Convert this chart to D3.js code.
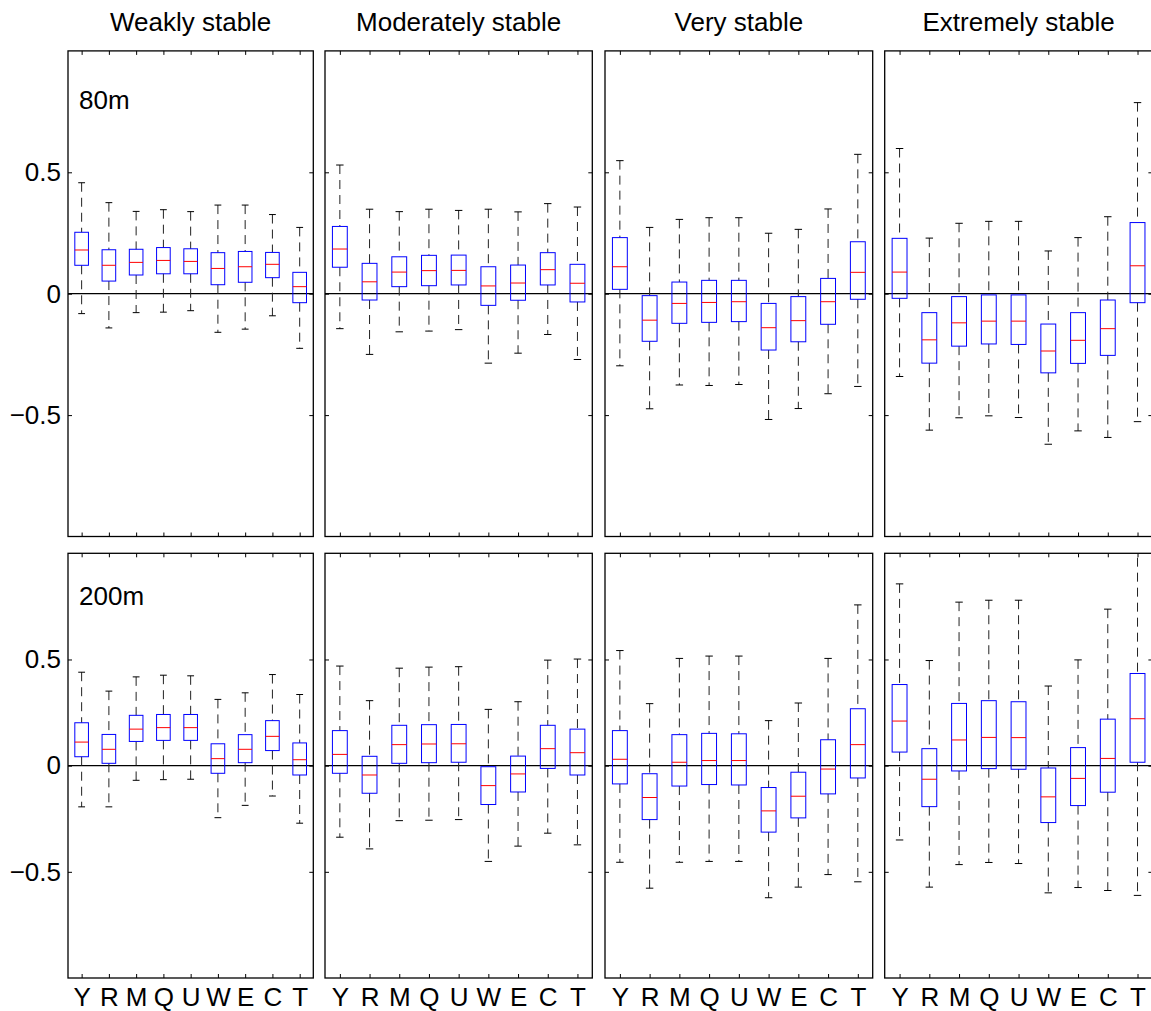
<!DOCTYPE html>
<html>
<head>
<meta charset="utf-8">
<script src="https://cdn.jsdelivr.net/npm/d3@7"></script>
<style>
  body { margin: 0; background: #fff; }
  svg { font-family: "Liberation Sans", Arial, Helvetica, sans-serif; }
</style>
</head>
<body>
<svg id="chart" width="1151" height="1011"></svg>
<script>
// categories on x, one column per stability class, one row per height
const categories = ["Y", "R", "M", "Q", "U", "W", "E", "C", "T"];
const stabilityTitles = ["Weakly stable", "Moderately stable", "Very stable", "Extremely stable"];
const heightLabels = ["80m", "200m"];
const yTicks = [-0.5, 0, 0.5];

// each row: [lower whisker, q1, median, q3, upper whisker]
const weakly80 = [
  [-0.082, 0.117, 0.180, 0.253, 0.457],
  [-0.141, 0.052, 0.117, 0.181, 0.375],
  [-0.078, 0.077, 0.129, 0.183, 0.339],
  [-0.076, 0.082, 0.137, 0.190, 0.346],
  [-0.070, 0.082, 0.133, 0.185, 0.338],
  [-0.159, 0.037, 0.104, 0.169, 0.365],
  [-0.146, 0.047, 0.111, 0.174, 0.365],
  [-0.091, 0.066, 0.121, 0.170, 0.326],
  [-0.225, -0.037, 0.029, 0.088, 0.273]
];
const moderately80 = [
  [-0.144, 0.109, 0.184, 0.277, 0.530],
  [-0.250, -0.026, 0.049, 0.125, 0.348],
  [-0.157, 0.029, 0.089, 0.152, 0.338],
  [-0.154, 0.033, 0.095, 0.158, 0.348],
  [-0.148, 0.036, 0.096, 0.159, 0.343],
  [-0.286, -0.048, 0.032, 0.111, 0.348],
  [-0.245, -0.027, 0.044, 0.118, 0.337],
  [-0.168, 0.036, 0.099, 0.169, 0.371],
  [-0.271, -0.034, 0.043, 0.121, 0.357]
];
const very80 = [
  [-0.297, 0.018, 0.111, 0.231, 0.548],
  [-0.474, -0.196, -0.109, -0.008, 0.273],
  [-0.376, -0.122, -0.040, 0.048, 0.306],
  [-0.378, -0.118, -0.036, 0.055, 0.313],
  [-0.374, -0.115, -0.033, 0.055, 0.313],
  [-0.518, -0.232, -0.140, -0.040, 0.249],
  [-0.473, -0.198, -0.111, -0.012, 0.265],
  [-0.412, -0.126, -0.033, 0.063, 0.349],
  [-0.382, -0.023, 0.088, 0.214, 0.574]
];
const extremely80 = [
  [-0.341, -0.019, 0.089, 0.228, 0.598],
  [-0.562, -0.286, -0.190, -0.078, 0.229],
  [-0.511, -0.216, -0.120, -0.012, 0.290],
  [-0.503, -0.207, -0.113, -0.005, 0.298],
  [-0.510, -0.209, -0.113, -0.005, 0.298],
  [-0.620, -0.326, -0.236, -0.125, 0.176],
  [-0.565, -0.287, -0.192, -0.078, 0.231],
  [-0.592, -0.254, -0.144, -0.026, 0.317],
  [-0.527, -0.037, 0.115, 0.293, 0.787]
];
const weakly200 = [
  [-0.194, 0.042, 0.111, 0.202, 0.440],
  [-0.194, 0.011, 0.077, 0.147, 0.351],
  [-0.069, 0.114, 0.172, 0.237, 0.418],
  [-0.066, 0.119, 0.179, 0.241, 0.426],
  [-0.064, 0.119, 0.179, 0.241, 0.423],
  [-0.245, -0.036, 0.033, 0.103, 0.312],
  [-0.187, 0.014, 0.077, 0.146, 0.343],
  [-0.143, 0.071, 0.138, 0.212, 0.429],
  [-0.271, -0.044, 0.028, 0.107, 0.335]
];
const moderately200 = [
  [-0.337, -0.036, 0.053, 0.165, 0.469],
  [-0.392, -0.130, -0.044, 0.044, 0.306],
  [-0.259, 0.011, 0.099, 0.190, 0.459],
  [-0.257, 0.014, 0.102, 0.193, 0.464],
  [-0.254, 0.016, 0.103, 0.194, 0.466],
  [-0.451, -0.183, -0.094, -0.005, 0.265],
  [-0.379, -0.124, -0.039, 0.045, 0.301],
  [-0.318, -0.013, 0.080, 0.190, 0.497],
  [-0.373, -0.044, 0.061, 0.172, 0.502]
];
const very200 = [
  [-0.455, -0.086, 0.030, 0.165, 0.542],
  [-0.577, -0.254, -0.150, -0.038, 0.292],
  [-0.455, -0.096, 0.016, 0.146, 0.505],
  [-0.451, -0.089, 0.024, 0.152, 0.516],
  [-0.451, -0.091, 0.024, 0.150, 0.516],
  [-0.622, -0.313, -0.213, -0.103, 0.212],
  [-0.572, -0.246, -0.144, -0.031, 0.295],
  [-0.513, -0.133, -0.016, 0.122, 0.505],
  [-0.547, -0.058, 0.099, 0.268, 0.757]
];
const extremely200 = [
  [-0.350, 0.064, 0.210, 0.382, 0.856],
  [-0.572, -0.193, -0.064, 0.080, 0.495],
  [-0.466, -0.025, 0.121, 0.293, 0.770],
  [-0.456, -0.014, 0.133, 0.306, 0.779],
  [-0.461, -0.017, 0.132, 0.301, 0.779],
  [-0.599, -0.268, -0.147, -0.011, 0.375],
  [-0.574, -0.188, -0.060, 0.085, 0.498],
  [-0.588, -0.125, 0.034, 0.219, 0.737],
  [-0.611, 0.016, 0.221, 0.434, 1.050]
];

const panelData = [
  [weakly80, moderately80, very80, extremely80],
  [weakly200, moderately200, very200, extremely200]
];

// panel frames in pixels
const colX = [[68, 313.3], [325, 592.3], [605, 872.7], [884.7, 1152.4]];
const rowY = [[50.9, 536.5], [553.3, 978]];
const fontSize = 26;

const svg = d3.select("#chart");

svg.selectAll(".col-title")
  .data(stabilityTitles)
  .enter().append("text")
  .attr("class", "col-title")
  .attr("x", (d, i) => (colX[i][0] + colX[i][1]) / 2)
  .attr("y", 31)
  .attr("text-anchor", "middle")
  .attr("font-size", fontSize)
  .text(d => d);

rowY.forEach((ry, r) => {
  colX.forEach((cx, c) => {
    const x = d3.scalePoint().domain(categories).range([cx[0], cx[1]]).padding(0.5);
    const y = d3.scaleLinear().domain([-1, 1]).range([ry[1], ry[0]]);
    const step = x.step();
    const boxW = step * 0.5;
    const capW = step * 0.25;
    const data = panelData[r][c];
    const clipId = "clip-" + r + "-" + c;

    svg.append("clipPath").attr("id", clipId)
      .append("rect")
      .attr("x", cx[0]).attr("y", ry[0])
      .attr("width", cx[1] - cx[0]).attr("height", ry[1] - ry[0]);

    const g = svg.append("g").attr("clip-path", "url(#" + clipId + ")");

    // zero line
    g.append("line")
      .attr("x1", cx[0]).attr("x2", cx[1])
      .attr("y1", y(0)).attr("y2", y(0))
      .attr("stroke", "#000").attr("stroke-width", 1.2);

    const box = g.selectAll(".box")
      .data(data)
      .enter().append("g")
      .attr("class", "box");

    // whiskers
    box.append("line")
      .attr("x1", (d, i) => x(categories[i])).attr("x2", (d, i) => x(categories[i]))
      .attr("y1", d => y(d[4])).attr("y2", d => y(d[3]))
      .attr("stroke", "#222").attr("stroke-dasharray", "9,6");
    box.append("line")
      .attr("x1", (d, i) => x(categories[i])).attr("x2", (d, i) => x(categories[i]))
      .attr("y1", d => y(d[1])).attr("y2", d => y(d[0]))
      .attr("stroke", "#222").attr("stroke-dasharray", "9,6");

    // caps
    [0, 4].forEach(k => {
      box.append("line")
        .attr("x1", (d, i) => x(categories[i]) - capW / 2)
        .attr("x2", (d, i) => x(categories[i]) + capW / 2)
        .attr("y1", d => y(d[k])).attr("y2", d => y(d[k]))
        .attr("stroke", "#000");
    });

    box.append("rect")
      .attr("x", (d, i) => x(categories[i]) - boxW / 2)
      .attr("y", d => y(d[3]))
      .attr("width", boxW)
      .attr("height", d => y(d[1]) - y(d[3]))
      .attr("fill", "none")
      .attr("stroke", "#0000ff");

    box.append("line")
      .attr("x1", (d, i) => x(categories[i]) - boxW / 2)
      .attr("x2", (d, i) => x(categories[i]) + boxW / 2)
      .attr("y1", d => y(d[2])).attr("y2", d => y(d[2]))
      .attr("stroke", "#ff0000");

    // ticks inside the frame on all four sides
    const yLeft = svg.append("g")
      .attr("transform", "translate(" + cx[0] + ",0)")
      .call(d3.axisLeft(y).tickValues(yTicks).tickSize(-4).tickPadding(7)
        .tickFormat(c === 0 ? (v => v < 0 ? "\u2212" + Math.abs(v) : String(v)) : () => ""));
    svg.append("g")
      .attr("transform", "translate(" + cx[1] + ",0)")
      .call(d3.axisRight(y).tickValues(yTicks).tickSize(-4).tickFormat(() => ""));
    const xBottom = svg.append("g")
      .attr("transform", "translate(0," + ry[1] + ")")
      .call(d3.axisBottom(x).tickSize(-4).tickPadding(10)
        .tickFormat(r === 1 ? (d => d) : () => ""));
    svg.append("g")
      .attr("transform", "translate(0," + ry[0] + ")")
      .call(d3.axisTop(x).tickSize(-4).tickFormat(() => ""));

    svg.selectAll(".domain").remove();
    svg.selectAll(".tick line").attr("stroke", "#000");
    yLeft.selectAll("text").attr("font-size", fontSize).attr("fill", "#000")
      .attr("font-family", "Liberation Sans, Arial, sans-serif");
    xBottom.selectAll("text").attr("font-size", fontSize).attr("fill", "#000")
      .attr("font-family", "Liberation Sans, Arial, sans-serif");

    // frame
    svg.append("rect")
      .attr("x", cx[0]).attr("y", ry[0])
      .attr("width", cx[1] - cx[0]).attr("height", ry[1] - ry[0])
      .attr("fill", "none").attr("stroke", "#000").attr("stroke-width", 1.3);

    if (c === 0) {
      svg.append("text")
        .attr("x", cx[0] + 11)
        .attr("y", ry[0] + (r === 0 ? 58 : 52))
        .attr("font-size", fontSize)
        .text(heightLabels[r]);
    }
  });
});
</script>
</body>
</html>
